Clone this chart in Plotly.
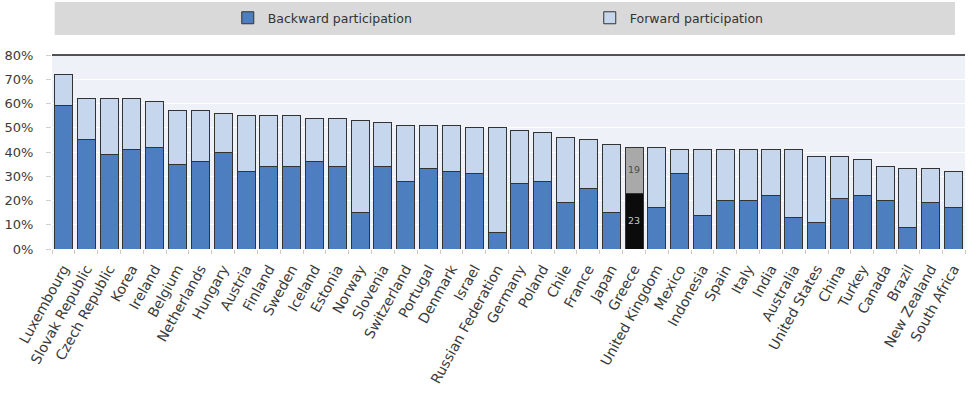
import plotly.graph_objects as go

countries = [
    "Luxembourg", "Slovak Republic", "Czech Republic", "Korea", "Ireland",
    "Belgium", "Netherlands", "Hungary", "Austria", "Finland", "Sweden",
    "Iceland", "Estonia", "Norway", "Slovenia", "Switzerland", "Portugal",
    "Denmark", "Israel", "Russian Federation", "Germany", "Poland", "Chile",
    "France", "Japan", "Greece", "United Kingdom", "Mexico", "Indonesia",
    "Spain", "Italy", "India", "Australia", "United States", "China",
    "Turkey", "Canada", "Brazil", "New Zealand", "South Africa",
]

# GVC participation index, % of gross exports
backward = [
    59, 45, 39, 41, 42, 35, 36, 40, 32, 34, 34,
    36, 34, 15, 34, 28, 33, 32, 31, 7, 27, 28, 19,
    25, 15, 23, 17, 31, 14, 20, 20, 22, 13, 11, 21,
    22, 20, 9, 19, 17,
]
forward = [
    13, 17, 23, 21, 19, 22, 21, 16, 23, 21, 21,
    18, 20, 38, 18, 23, 18, 19, 19, 43, 22, 20, 27,
    20, 28, 19, 25, 10, 27, 21, 21, 19, 28, 27, 17,
    15, 14, 24, 14, 15,
]

highlight = "Greece"

y_ticks = [0, 10, 20, 30, 40, 50, 60, 70, 80]
y_tick_labels = [f"{v}%" for v in y_ticks]

BLUE = "#4d7fc0"
LIGHT = "#c6d6ed"
HL_BACK = "#0b0b0b"
HL_FWD = "#a9a9a9"
EDGE = "#333333"
FONT = "DejaVu Sans"

back_colors = [HL_BACK if c == highlight else BLUE for c in countries]
fwd_colors = [HL_FWD if c == highlight else LIGHT for c in countries]
back_text = [str(v) if c == highlight else "" for c, v in zip(countries, backward)]
fwd_text = [str(v) if c == highlight else "" for c, v in zip(countries, forward)]

fig = go.Figure()
fig.add_trace(go.Bar(
    x=countries, y=backward, name="Backward participation",
    marker=dict(color=back_colors, line=dict(color=EDGE, width=1)),
    text=back_text, textposition="inside", insidetextanchor="middle",
    textangle=0, textfont=dict(color="#c8c8c8", size=12, family=FONT),
    hoverinfo="x+y",
))
fig.add_trace(go.Bar(
    x=countries, y=forward, name="Forward participation",
    marker=dict(color=fwd_colors, line=dict(color=EDGE, width=1)),
    text=fwd_text, textposition="inside", insidetextanchor="middle",
    textangle=0, textfont=dict(color="#4a4a4a", size=12, family=FONT),
    hoverinfo="x+y",
))

# grey legend band across the top
fig.add_shape(type="rect", xref="paper", yref="paper",
              x0=0.003, x1=0.989, y0=1.103, y1=1.273,
              fillcolor="#d9d9d9", line=dict(width=0), layer="below")
# frame line along the top of the plot area
fig.add_shape(type="line", xref="paper", yref="paper",
              x0=0, x1=1, y0=1, y1=1, line=dict(color="#1a1a1a", width=1.5))

fig.update_layout(
    width=970, height=403,
    margin=dict(l=52, r=5, t=55, b=154, autoexpand=False),
    barmode="stack", bargap=0.21,
    paper_bgcolor="white", plot_bgcolor="#eef1f8",
    font=dict(family=FONT, size=13, color="#333333"),
    showlegend=True,
    legend=dict(
        orientation="h", x=0.1925, xanchor="left", y=1.19, yanchor="middle",
        bgcolor="rgba(0,0,0,0)", entrywidth=317, entrywidthmode="pixels",
        font=dict(size=12.5, color="#333333", family=FONT), traceorder="normal",
    ),
    xaxis=dict(
        type="category", tickangle=-61, ticks="outside", tickson="boundaries",
        ticklen=4, tickcolor="#d0c8b8", showgrid=False, showline=False,
        tickfont=dict(size=14, color="#3a3a3a", family=FONT),
        ticklabelstandoff=8, automargin=False,
    ),
    yaxis=dict(
        range=[0, 80], tickvals=y_ticks, ticktext=y_tick_labels,
        showgrid=True, gridcolor="#ffffff", gridwidth=1,
        zeroline=False, showline=False, ticks="outside", ticklen=5,
        tickcolor="#d0d0d0", tickfont=dict(size=13, color="#3a3a3a", family=FONT),
        ticklabelstandoff=10, automargin=False,
    ),
)

fig.write_html("out.html")
